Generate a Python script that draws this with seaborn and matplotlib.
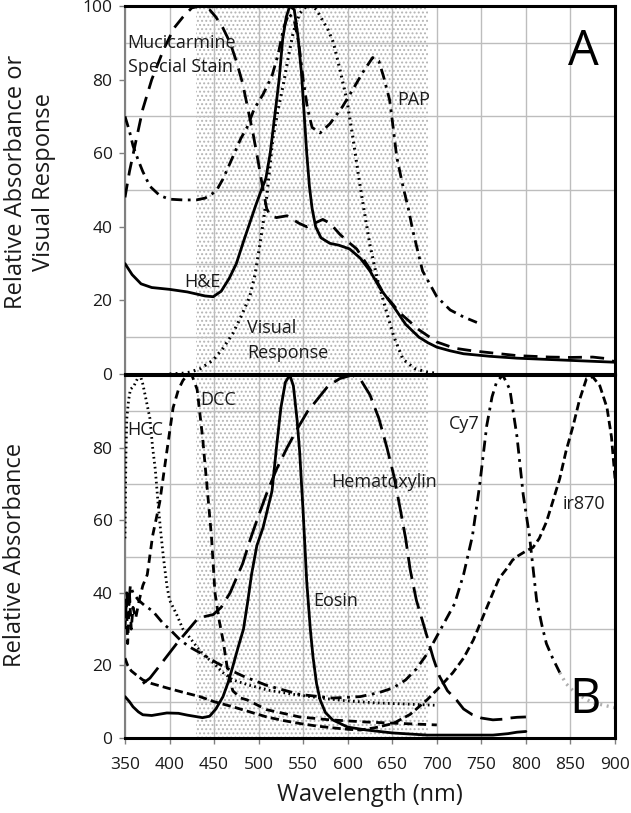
import numpy as np
import pandas as pd
import matplotlib
matplotlib.use("Agg")
import matplotlib.pyplot as plt
import seaborn as sns

# ---------------- DATA ----------------
# Panel A
he_x = [350,358,368,380,400,420,440,449,458,467,475,483,490,497,503,508,513,518,523,527,531,535,540,544,548,551,554,557,560,564,570,580,590,602,614,625,637,651,665,680,690,700,715,730,760,790,830,870,900]
he_y = [30,27,24.5,23.5,23,22.3,21.2,21,22.5,26,30,36,41,46,50,53,60,70,80,91,97,100,99,92,82,71,60,51,45,40,37,35.5,35,34,31.5,28,23,18.5,13.5,10,8.5,7.3,6.3,5.5,4.8,4.3,3.9,3.5,3.2]

mu_x = [350,355,362,370,380,393,405,415,425,435,445,452,460,468,475,482,488,494,500,505,509,513,520,532,545,554,563,572,580,591,600,610,625,640,659,680,700,720,740,763,790,827,850,875,890,900]
mu_y = [48,55,63,72,80,88,94,97,99.5,100,99,97,94,90,85,79,72,65,57,50,45,43,42.5,43,41,40,41,42,41,38,36,34,28.5,22,16.5,12,8.7,7,6.3,5.7,5,4.6,4.5,4.6,4.2,3.3]

pap_x = [350,355,359,365,370,378,389,400,415,430,440,448,453,460,471,480,487,495,505,515,522,528,534,540,545,550,555,560,569,580,594,605,617,628,635,640,647,651,655,662,668,673,684,700,715,730,745]
pap_y = [70,66,62,58,55,51,48.5,47.5,47.3,47.3,47.8,49,50,53,59,64,67,72,76,81,87,94,98,96,90,80,72,67,65.5,68,72.6,77,82,86,85,81,74.5,67,59,51,45,39,28,21,17.4,15.5,14]

vis_x = [400,415,423,435,449,460,471,480,490,496,501,505,509,516,522,528,534,539,546,554,560,565,572,578,584,590,599,606,612,618,625,633,644,652,662,675,689,700]
vis_y = [0,0.2,0.5,1.5,3.8,7,11,15.5,21,27,34.5,41,48,64,72,79,87,93,98,100,100,99,96,93.5,90,84,74.5,64,54,45,35,26,16.5,10,4,1.5,0.5,0.2]

# Panel B
hcc_x = [350,351,352,354,356,360,364,367,370,373,378,381,384,387,390,393,397,400,408,415,420,431,440,449,460,471,490,510,540,570,600,630,660,680,700]
hcc_y = [55,78,88,93,96,97,99,100,97.5,94,88,80,74,65,57,50,42,38,34,30,28.5,25,22.5,20.7,18,16,14.5,13.2,12,11,10.2,9.7,9.4,9.2,9]

dcc_x = [350,351.5,353,355,357,359,362,366,370,375,381,389,397,404,410,415,420,425,431,437,442,447,451,456,460,465,471,480,487,509,546,580,621,660,700]
dcc_y = [30,38,26,40,30,36,33,38,42,45,55.7,65,79,91,96,98.5,100,100,96,83,69.5,55.7,40,32,27,19,13,11,10.5,7.8,5.8,5,4.4,4,3.6]

hem_x = [370,378,386,397,408,420,431,440,449,458,468,482,491,501,510,520,532,543,555,565,578,591,605,615,625,635,644,652,659,665,670,677,683,689,696,703,712,722,730,740,750,763,775,782,790,800]
hem_y = [15,16.5,19,22.5,26,29.5,32.7,33.5,34,36,40,48,55,62,68,74,80,85,90,93,97,99,100,98.5,94.5,88,80,72,63,55,46.5,38,33,28,22,17,13,10.5,8,6.4,5.5,5,5.2,5.5,5.7,5.8]

eos_x = [350,355,359,365,370,380,397,410,420,437,445,452,460,466,471,477,483,488,492,498,505,510,515,520,525,530,535,539,543,546,550,554,558,561,565,569,575,583,600,621,650,689,730,763,780,790,800]
eos_y = [11.4,10,8.6,7.2,6.4,6.2,6.9,6.8,6.3,5.6,6,8,11.4,15.5,19.7,25,30,38,45,53,58,63,68,80,91,98,100,97,88,79,62,43,30,22.4,15,10.5,7,5,3,2.2,1.4,0.8,0.8,0.8,1.2,1.6,1.8]

cy7_x = [350,352,354,356,359,365,372,381,393,400,412,423,434,453,470,483,509,546,583,614,635,651,665,677,690,700,710,720,730,740,748,756,762,767,774,782,790,797,804,812,818,823,830,838]
cy7_y = [33,40,36,42,40,38,36.5,35,31.5,30,27,25,23.5,20.7,18.5,17,14.5,12,11,11.4,12.5,13.8,16,19,23.5,28,32.5,37,45,55.7,69.5,86,94,98,100,96,83,67,55.7,38,31,26,22,18]
cy7_tail_x = [838,845,853,865,875,888,900]
cy7_tail_y = [18,15,13,11,9.7,9,8.3]

ir_x = [350,353,357,362,370,380,397,415,434,450,471,490,509,528,546,565,583,600,614,630,651,670,689,705,718,730,741,752,763,770,778,785,790,800,808,815,823,830,838,845,853,860,868,875,883,891,896,900]
ir_y = [22,20,18.5,17.5,16,15,13.8,12.6,11.4,10,8.6,7.2,5.8,4.8,4,3.3,2.8,2.4,2.2,2.8,4,6.5,10.5,14.5,18,22,27,33.5,40,44,46.5,49,50,51.5,52.5,55,59.5,65,71.5,79,86,93,99,99.5,97,91,83,71.5]

x_ticks = [350,400,450,500,550,600,650,700,750,800,850,900]
yticks_a = [0,20,40,60,80,100]
yticks_b = [0,20,40,60,80]
shade_lo, shade_hi = 430, 690

# ---------------- STYLE ----------------
sns.set_theme(style="white")
plt.rcParams['font.family'] = ['Open Sans', 'DejaVu Sans']
plt.rcParams['hatch.linewidth'] = 0.9
TXT = '#1a1a1a'
GRID = '#bdbdbd'

fig = plt.figure(figsize=(6.31, 8.13), dpi=100)
L, W = 125/631, 490/631
axA = fig.add_axes([L, 1-374/813, W, 368/813])
axB = fig.add_axes([L, 1-738/813, W, 363/813])

def frame(ax):
    ax.set_xlim(350, 900)
    ax.set_ylim(0, 100)
    ax.axvspan(shade_lo, shade_hi, facecolor='white', edgecolor='#b4b4b4',
               hatch='....', lw=0, zorder=0)
    ax.set_xticks(x_ticks)
    ax.set_yticks(np.arange(0, 101, 10), minor=True)
    ax.grid(True, which='major', axis='x', color=GRID, lw=1.0)
    ax.grid(True, which='minor', axis='y', color=GRID, lw=1.0)
    ax.set_axisbelow(True)
    for s in ['top', 'right', 'bottom']:
        ax.spines[s].set_color('black')
        ax.spines[s].set_linewidth(2.2)
        ax.spines[s].set_zorder(5)
    ax.spines['left'].set_color('#808080')
    ax.spines['left'].set_linewidth(1.5)
    ax.tick_params(axis='both', which='major', direction='out', length=4, width=1,
                   color='#808080', labelsize=12.5, labelcolor=TXT, pad=5,
                   left=True, bottom=True)
    ax.tick_params(axis='x', which='major', pad=10)
    ax.tick_params(axis='y', which='minor', left=False)

def line(ax, xs, ys, ls, color='black', lw=2.0):
    df = pd.DataFrame({'nm': xs, 'v': ys})
    sns.lineplot(data=df, x='nm', y='v', ax=ax, color=color, lw=lw,
                 linestyle=ls, estimator=None, sort=False, zorder=3)

frame(axA)
frame(axB)

# Panel A curves
line(axA, mu_x, mu_y, (0, (5, 3)))
line(axA, pap_x, pap_y, (0, (4, 2, 1, 2)))
line(axA, vis_x, vis_y, (0, (0.6, 1.4)), lw=2.2)
line(axA, he_x, he_y, '-')

# Panel B curves
line(axB, hcc_x, hcc_y, (0, (0.6, 1.2)), lw=2.0)
line(axB, dcc_x, dcc_y, (0, (3, 2)))
line(axB, hem_x, hem_y, (0, (8, 3)))
line(axB, cy7_x, cy7_y, (0, (4, 2, 1, 2)))
line(axB, cy7_tail_x, cy7_tail_y, (0, (0.6, 1.4)), color='#b0b0b0', lw=2.4)
line(axB, ir_x, ir_y, (0, (3, 1.5)))
line(axB, eos_x, eos_y, '-')

for ax in (axA, axB):
    ax.set_xlabel('')
    ax.set_ylabel('')
    ax.set_xlim(350, 900)
    ax.set_ylim(0, 100)
axA.set_yticks(yticks_a)
axA.tick_params(axis='x', labelbottom=False)
axB.set_yticks(yticks_b)

# Annotations
fsA = 13
axA.text(353, 90, 'Mucicarmine', fontsize=fsA, color=TXT, va='center', ha='left')
axA.text(353, 83.3, 'Special Stain', fontsize=fsA, color=TXT, va='center', ha='left')
axA.text(656, 74.5, 'PAP', fontsize=fsA, color=TXT, va='center', ha='left')
axA.text(417, 25, 'H&E', fontsize=fsA, color=TXT, va='center', ha='left')
axA.text(487, 12.5, 'Visual', fontsize=fsA, color=TXT, va='center', ha='left')
axA.text(487, 5.7, 'Response', fontsize=fsA, color=TXT, va='center', ha='left')
axA.text(864, 87.5, 'A', fontsize=35, color='black', va='center', ha='center')

axB.text(352, 84.8, 'HCC', fontsize=fsA, color=TXT, va='center', ha='left')
axB.text(434, 93, 'DCC', fontsize=fsA, color=TXT, va='center', ha='left')
axB.text(582, 70.6, 'Hematoxylin', fontsize=fsA, color=TXT, va='center', ha='left')
axB.text(714, 86.4, 'Cy7', fontsize=fsA, color=TXT, va='center', ha='left')
axB.text(841.5, 64.5, 'ir870', fontsize=fsA, color=TXT, va='center', ha='left')
axB.text(561, 37.7, 'Eosin', fontsize=fsA, color=TXT, va='center', ha='left')
axB.text(866, 10.5, 'B', fontsize=35, color='black', va='center', ha='center')

# Axis labels
fig.text(30/631, 1-182/813, 'Relative Absorbance or\nVisual Response', rotation=90,
         fontsize=17, color=TXT, ha='center', va='center', multialignment='center',
         linespacing=1.25)
fig.text(15/631, 1-555/813, 'Relative Absorbance', rotation=90,
         fontsize=17, color=TXT, ha='center', va='center')
fig.text(370/631, 1-795/813, 'Wavelength (nm)', fontsize=17, color=TXT,
         ha='center', va='center')

fig.savefig('out.png', dpi=100)
